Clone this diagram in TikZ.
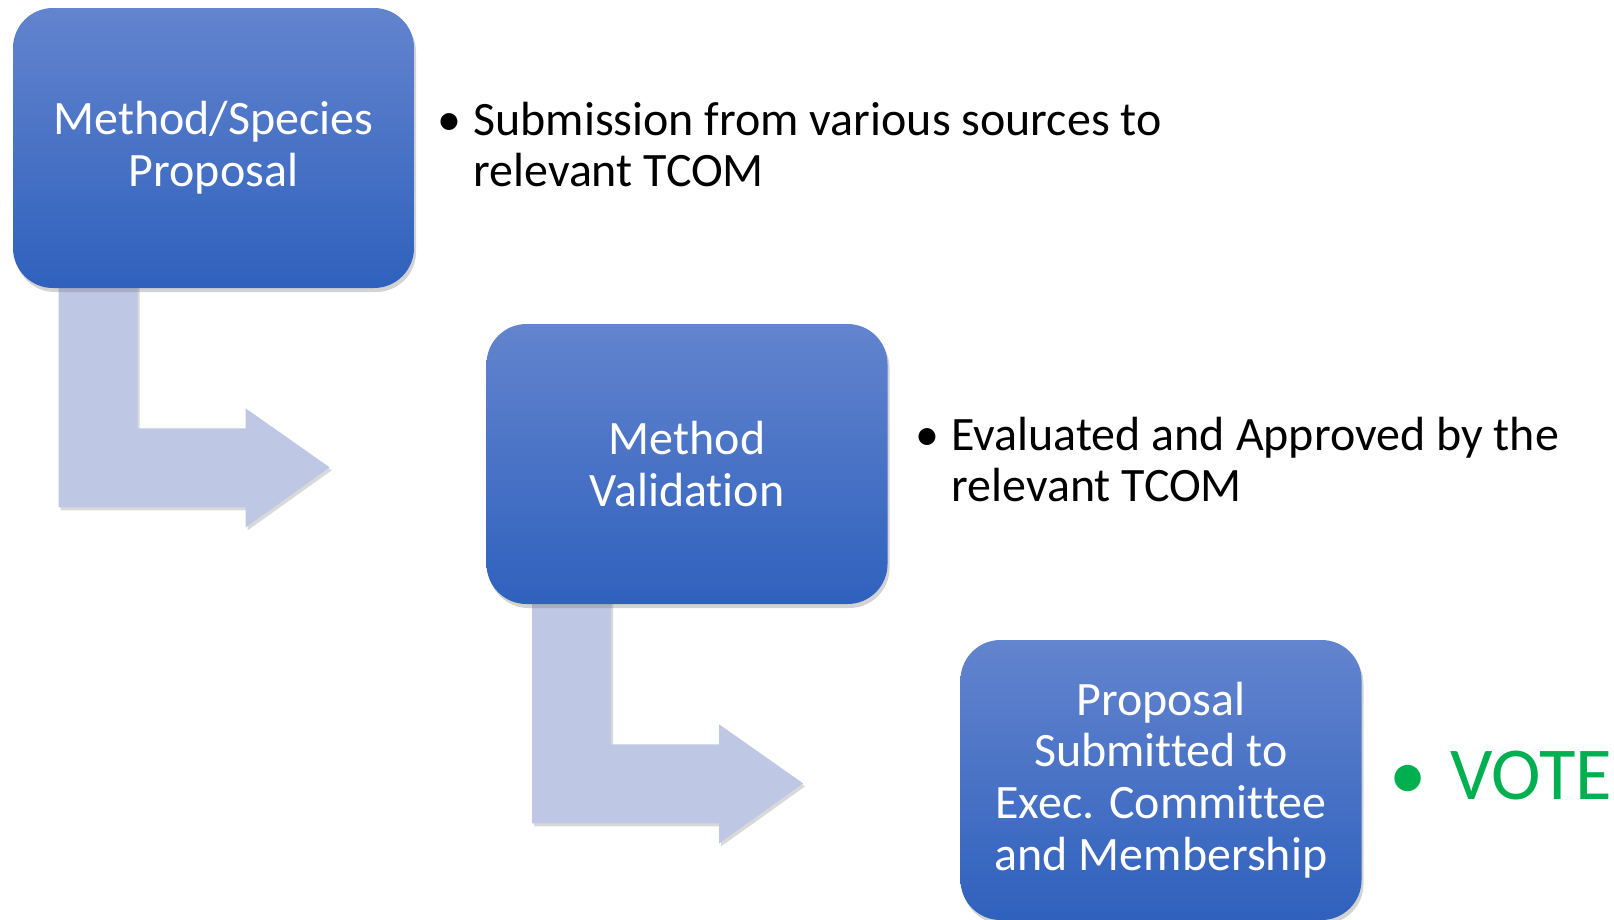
\documentclass[tikz,border=0pt]{standalone}
\usepackage{fontspec}
\setmainfont[Ligatures={NoCommon,NoContextual,NoRare}, Contextuals=NoAlternate]{Carlito}
\usetikzlibrary{shadows,backgrounds}

\definecolor{boxtop}{RGB}{99,132,206}
\definecolor{boxbot}{RGB}{47,97,189}
\definecolor{arrowfill}{RGB}{190,200,228}
\definecolor{votegreen}{RGB}{0,176,80}

\tikzset{
  stagebox/.style={rounded corners=0.8cm, minimum width=8.02cm, minimum height=5.6cm,
    inner sep=0pt, top color=boxtop, bottom color=boxbot, text=white, align=center,
    font=\fontsize{27.3}{29.5}\selectfont,
    drop shadow={opacity=0.35, shadow xshift=0.04cm, shadow yshift=-0.08cm}},
  turnarrow/.style={fill=arrowfill,
    drop shadow={opacity=0.3, shadow xshift=0.04cm, shadow yshift=-0.06cm}},
  bul/.style={inner sep=0pt, anchor=base, font=\fontsize{27.3}{29.5}\selectfont},
  note/.style={inner sep=0pt, anchor=base west, font=\fontsize{27.3}{29.5}\selectfont}
}

\begin{document}
\begin{tikzpicture}
      \useasboundingbox (0,0) rectangle (32.28,-18.38);

      \node[stagebox] (b1) at ( 4.27, -2.96) {Method/Species\\Proposal};
      \node[stagebox] (b2) at (13.74, -9.28) {Method\\Validation};
      \node[stagebox] (b3) at (23.22,-15.60) {Proposal\\Submitted to\\Exec. Committee\\and Membership};

      % bent arrows under the boxes
      \foreach \b in {b1,b2}{
        \begin{scope}[on background layer, shift={(\b.south west)}]
          \fill[turnarrow] (0.92,0.2) -- (2.5,0.2) -- (2.5,-2.8) -- (4.66,-2.8) -- (4.66,-2.4)
            -- (6.34,-3.58) -- (4.66,-4.78) -- (4.66,-4.38) -- (0.92,-4.38) -- cycle;
        \end{scope}
      }

      \node[bul] (d1) at ( 8.98,-2.70) {•};
      \node[note] (t1) at ( 9.46,-2.70) {\begin{tabular}[t]{@{}l@{}}Submission from various sources to\\relevant TCOM\end{tabular}};

      \node[bul] (d2) at (18.54,-9.00) {•};
      \node[note] (t2) at (19.02,-9.00) {\begin{tabular}[t]{@{}l@{}}Evaluated and Approved by the\\relevant TCOM\end{tabular}};

      \node[bul, text=votegreen, font=\fontsize{42.5}{46}\selectfont] (d3) at (28.16,-15.98) {•};
      \node[note, text=votegreen, font=\fontsize{42.5}{46}\selectfont] (t3) at (29.0,-15.98) {VOTE};
    \end{tikzpicture}
\end{document}
